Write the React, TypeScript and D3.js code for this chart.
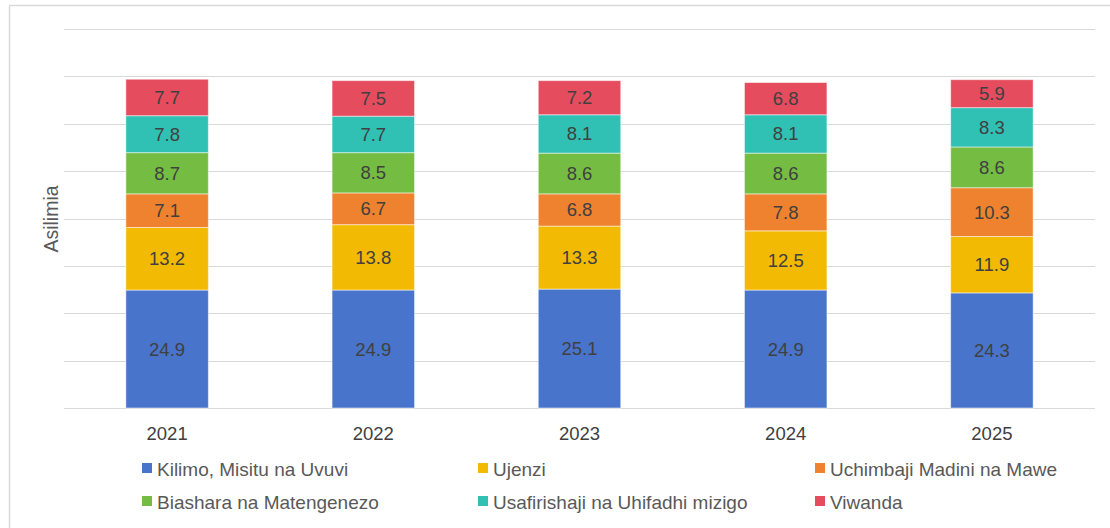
import React from "react";
import * as d3 from "d3";

const years = ["2021", "2022", "2023", "2024", "2025"];
const seriesNames = [
  "Kilimo, Misitu na Uvuvi",
  "Ujenzi",
  "Uchimbaji Madini na Mawe",
  "Biashara na Matengenezo",
  "Usafirishaji na Uhifadhi mizigo",
  "Viwanda",
];
const kilimo = [24.9, 24.9, 25.1, 24.9, 24.3];
const ujenzi = [13.2, 13.8, 13.3, 12.5, 11.9];
const uchimbaji = [7.1, 6.7, 6.8, 7.8, 10.3];
const biashara = [8.7, 8.5, 8.6, 8.6, 8.6];
const usafirishaji = [7.8, 7.7, 8.1, 8.1, 8.3];
const viwanda = [7.7, 7.5, 7.2, 6.8, 5.9];
const seriesValues = [kilimo, ujenzi, uchimbaji, biashara, usafirishaji, viwanda];
const colors = ["#4874CB", "#F2BA02", "#EE822F", "#75BD42", "#30C0B4", "#E54C5E"];
const yTicks = [0, 10, 20, 30, 40, 50, 60, 70, 80];

const W = 1110;
const H = 528;
const FONT = "'Liberation Sans', Arial, sans-serif";

export default function App() {
  const x = d3.scaleBand<string>().domain(years).range([64, 1095]).paddingInner(0.6).paddingOuter(0.3);
  const y = d3.scaleLinear().domain([0, 80]).range([408, 29]);

  const table = years.map((yr, i) => {
    const row: any = { year: yr };
    seriesNames.forEach((s, j) => (row[s] = seriesValues[j][i]));
    return row;
  });
  const stacked = d3.stack<any>().keys(seriesNames)(table);

  const legendCols = [142, 478, 815];
  const legendRows = [469, 502];

  return (
    <svg
      width={W}
      height={H}
      style={{ position: "absolute", left: 0, top: 0, display: "block", background: "#fff" }}
      fontFamily={FONT}
    >
      <rect x={0} y={0} width={W} height={H} fill="#fff" />
      {/* frame */}
      <line x1={9.5} x2={W} y1={5.5} y2={5.5} stroke="#d9d9d9" strokeWidth={1.5} />
      <line x1={9.5} x2={9.5} y1={5.5} y2={H} stroke="#d9d9d9" strokeWidth={1.5} />

      {/* gridlines */}
      {yTicks.map((t) => (
        <line
          key={t}
          x1={64}
          x2={1095}
          y1={Math.round(y(t)) + 0.5}
          y2={Math.round(y(t)) + 0.5}
          stroke="#d9d9d9"
          strokeWidth={1.2}
        />
      ))}

      {/* bars */}
      {stacked.map((layer, j) => (
        <g key={layer.key}>
          {layer.map((d, i) => {
            const y0 = y(d[0]);
            const y1 = y(d[1]);
            const bx = x(years[i])!;
            const bw = x.bandwidth();
            return (
              <g key={i}>
                <rect
                  x={bx}
                  y={y1}
                  width={bw}
                  height={y0 - y1}
                  fill={colors[j]}
                  stroke="#ffffff"
                  strokeOpacity={0.5}
                  strokeWidth={1}
                />
                <text
                  x={bx + bw / 2}
                  y={(y0 + y1) / 2}
                  textAnchor="middle"
                  dominantBaseline="central"
                  fontSize={18.5}
                  fill="#404040"
                >
                  {seriesValues[j][i].toFixed(1)}
                </text>
              </g>
            );
          })}
        </g>
      ))}

      {/* x axis labels */}
      {years.map((yr) => (
        <text
          key={yr}
          x={x(yr)! + x.bandwidth() / 2}
          y={433}
          textAnchor="middle"
          dominantBaseline="central"
          fontSize={18.5}
          fill="#404040"
        >
          {yr}
        </text>
      ))}

      {/* y axis title */}
      <text
        transform={`translate(51,219) rotate(-90)`}
        textAnchor="middle"
        dominantBaseline="central"
        fontSize={19.5}
        fill="#595959"
      >
        Asilimia
      </text>

      {/* legend */}
      {seriesNames.map((s, j) => {
        const cx = legendCols[j % 3];
        const cy = legendRows[Math.floor(j / 3)];
        return (
          <g key={s}>
            <rect x={cx} y={cy - 6} width={10} height={10} fill={colors[j]} />
            <text x={cx + 15} y={cy} dominantBaseline="central" fontSize={19} fill="#595959">
              {s}
            </text>
          </g>
        );
      })}
    </svg>
  );
}
